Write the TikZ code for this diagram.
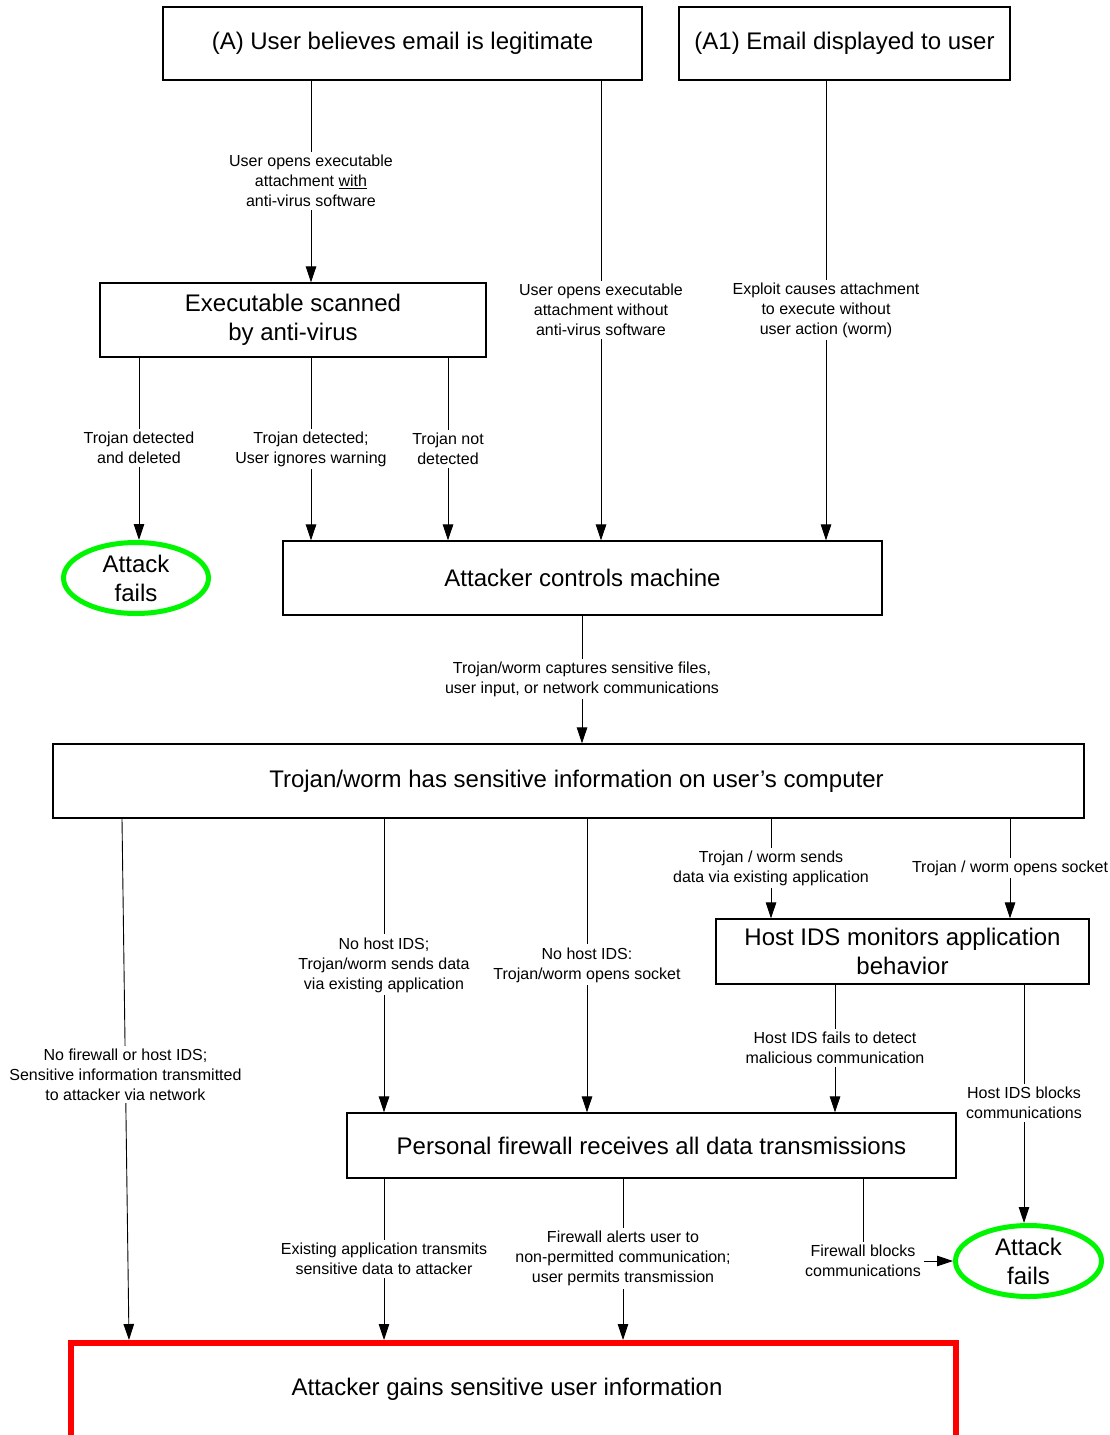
\documentclass[tikz,border=0pt]{standalone}
\usepackage{fontspec}
\setmainfont{Liberation Sans}
\usetikzlibrary{arrows.meta,shapes.geometric}
\definecolor{failgreen}{RGB}{0,245,0}
\definecolor{goalred}{RGB}{255,0,0}
\tikzset{
  box/.style={draw, line width=1.2pt, rectangle, inner sep=0pt, align=center, font=\fontsize{24}{29}\selectfont},
  fail/.style={draw=failgreen, ellipse, line width=5pt, inner sep=0pt, align=center, font=\fontsize{24}{29}\selectfont},
  goal/.style={draw=goalred, rectangle, line width=6pt, inner sep=0pt},
  bigtext/.style={inner sep=0pt, font=\fontsize{24}{29}\selectfont},
  lbl/.style={fill=white, inner sep=3pt, align=center, font=\fontsize{16}{20}\selectfont},
  arr/.style={-{Triangle[length=16pt,width=10.5pt]}, line width=0.9pt},
}
\begin{document}
\begin{tikzpicture}[x=1pt,y=-1pt]
\useasboundingbox (0,0) rectangle (1110,1435);
\clip (0,0) rectangle (1110,1435);

% boxes
\node[box, minimum width=479pt, minimum height=73pt] (nA) at (402.5,43.5) {(A) User believes email is legitimate};
\node[box, minimum width=331pt, minimum height=73pt] (nA1) at (844.5,43.5) {(A1) Email displayed to user};
\node[box, minimum width=386pt, minimum height=74pt] (nExec) at (293,320) {Executable scanned\\by anti-virus};
\node[fail, minimum width=145pt, minimum height=71pt] (nAF1) at (136,578) {Attack\\fails};
\node[box, minimum width=599pt, minimum height=74pt] (nCtrl) at (582.5,578) {Attacker controls machine};
\node[box, minimum width=1031pt, minimum height=74pt] (nSens) at (568.5,781) {\hspace*{16pt}Trojan/worm has sensitive information on user’s computer};
\node[box, minimum width=373pt, minimum height=65pt] (nHIDS) at (902.5,951.5) {Host IDS monitors application\\behavior};
\node[box, minimum width=609pt, minimum height=65pt] (nFW) at (651.5,1145.5) {Personal firewall receives all data transmissions};
\node[fail, minimum width=146pt, minimum height=71pt] (nAF2) at (1028.5,1261) {Attack\\fails};
\node[goal, minimum width=885pt, minimum height=100pt] (nRed) at (513.5,1393) {};
\node[bigtext] (nRedText) at (507,1389) {Attacker gains sensitive user information};

% connectors
\draw[arr] (nA.south -| 311,0) -- node[lbl,pos=.497]{User opens executable\\attachment \underline{with}\\anti-virus software} (nExec.north -| 311,0);
\draw[arr] (nA.south -| 601,0) -- node[lbl,pos=.499]{User opens executable\\attachment without\\anti-virus software} (nCtrl.north -| 601,0);
\draw[arr] (nA1.south -| 826,0) -- node[lbl,pos=.499]{Exploit causes attachment\\to execute without\\user action (worm)} (nCtrl.north -| 826,0);

\draw[arr] (nExec.south -| 139,0) -- node[lbl,pos=.497]{Trojan detected\\and deleted} (nAF1.north -| 139,0);
\draw[arr] (nExec.south -| 311,0) -- node[lbl,pos=.5]{Trojan detected;\\User ignores warning} (nCtrl.north -| 311,0);
\draw[arr] (nExec.south -| 448,0) -- node[lbl,pos=.5]{Trojan not\\detected} (nCtrl.north -| 448,0);

\draw[arr] (nCtrl.south -| 582,0) -- node[lbl,pos=.496]{Trojan/worm captures sensitive files,\\user input, or network communications} (nSens.north -| 582,0);

\draw[arr] (nSens.south -| 122,0) -- node[lbl,pos=.491]{No firewall or host IDS;\\Sensitive information transmitted\\to attacker via network} (nRed.north -| 129,0);
\draw[arr] (nSens.south -| 384,0) -- node[lbl,pos=.498]{No host IDS;\\Trojan/worm sends data\\via existing application} (nFW.north -| 384,0);
\draw[arr] (nSens.south -| 587,0) -- node[lbl,pos=.498]{No host IDS:\\Trojan/worm opens socket} (nFW.north -| 587,0);
\draw[arr] (nSens.south -| 771,0) -- node[lbl,pos=.495]{Trojan / worm sends\\data via existing application} (nHIDS.north -| 771,0);
\draw[arr] (nSens.south -| 1010,0) -- node[lbl,pos=.495]{Trojan / worm opens socket} (nHIDS.north -| 1010,0);

\draw[arr] (nHIDS.south -| 835,0) -- node[lbl,pos=.496]{Host IDS fails to detect\\malicious communication} (nFW.north -| 835,0);
\draw[arr] (nHIDS.south -| 1024,0) -- node[lbl,pos=.496]{Host IDS blocks\\communications} (nAF2.north -| 1024,0);

\draw[arr] (nFW.south -| 384,0) -- node[lbl,pos=.497]{Existing application transmits\\sensitive data to attacker} (nRed.north -| 384,0);
\draw[arr] (nFW.south -| 623,0) -- node[lbl,pos=.497]{Firewall alerts user to\\non-permitted communication;\\user permits transmission} (nRed.north -| 623,0);
\draw[arr] (nFW.south -| 863,0) |- node[lbl,pos=.5]{Firewall blocks\\communications} (nAF2.west);
\end{tikzpicture}
\end{document}
